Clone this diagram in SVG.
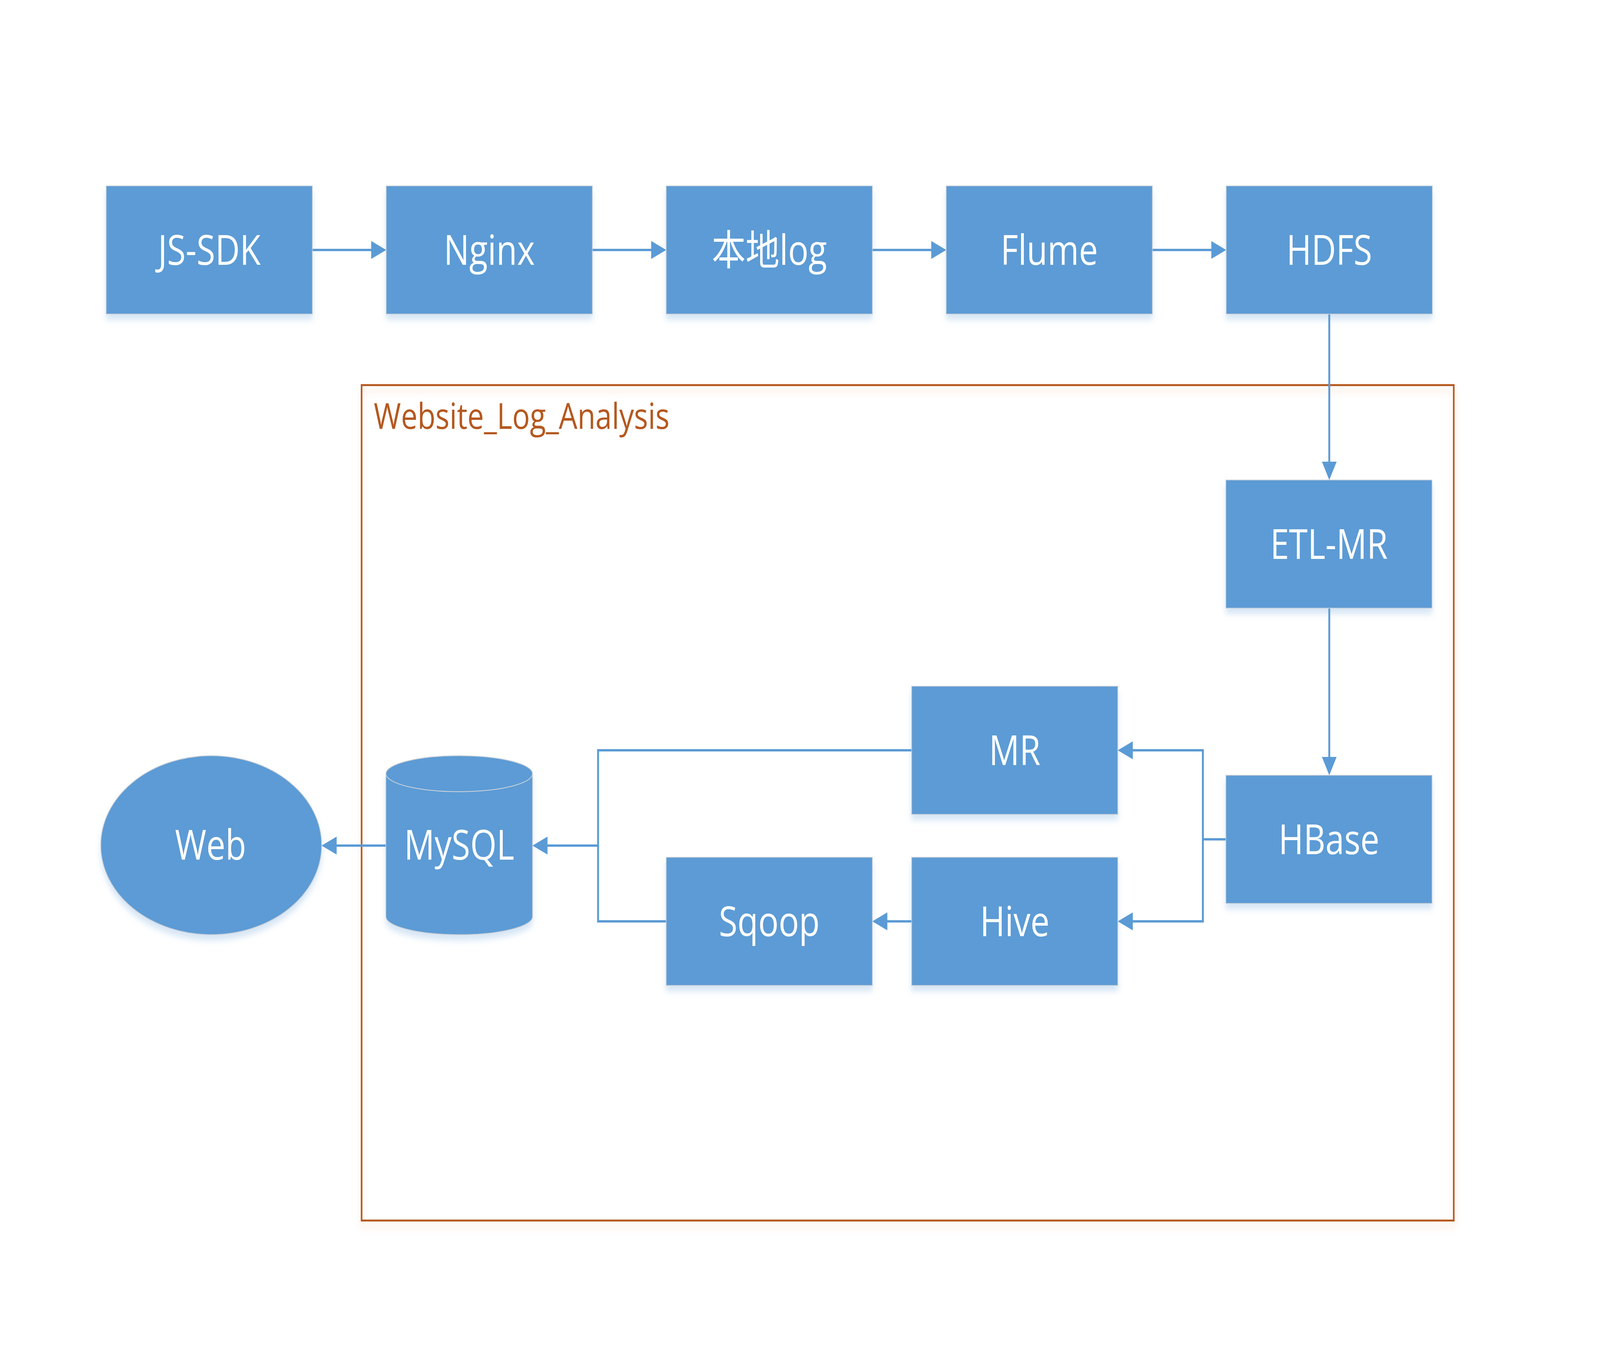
<svg xmlns="http://www.w3.org/2000/svg" width="5000" height="3500" viewBox="0 0 5000 3500" preserveAspectRatio="none" style="width:100vw;height:100vh;display:block">
  <defs>
    <style>
      .node { fill: #5B9BD5; stroke: #C3CCD6; stroke-width: 2; }
      .label { fill: #FFFFFF; font-family: "Open Sans", "Noto Sans CJK SC", sans-serif; font-size: 106px; text-anchor: middle; }
      .conn { fill: none; stroke: #5B9BD5; stroke-width: 6; marker-end: url(#arrow); }
      .plain { fill: none; stroke: #5B9BD5; stroke-width: 6; }
      .frame { fill: none; stroke: #B5581F; stroke-width: 5; }
      .title { fill: #B5581F; font-family: "Open Sans", sans-serif; font-size: 92px; }
    </style>
    <filter id="shadowBlue" x="-10%" y="-10%" width="120%" height="130%">
      <feDropShadow dx="0" dy="14" stdDeviation="8" flood-color="#5B9BD5" flood-opacity="0.25"/>
    </filter>
    <filter id="shadowOrange" x="-5%" y="-5%" width="110%" height="110%">
      <feDropShadow dx="0" dy="14" stdDeviation="9" flood-color="#F4A46E" flood-opacity="0.35"/>
    </filter>
    <marker id="arrow" markerUnits="userSpaceOnUse" markerWidth="47" markerHeight="46" refX="7" refY="23" orient="auto">
      <path d="M0,0 L47,23 L0,46 Z" fill="#5B9BD5"/>
    </marker>
  </defs>
  <rect width="5000" height="3500" fill="#FFFFFF"/>

  <g id="container">
    <rect class="frame" x="1130" y="986" width="3413" height="2139" filter="url(#shadowOrange)"/>
    <text class="title" x="1168" y="1098">Website_Log_Analysis</text>
  </g>

  <g id="connectors">
    <path class="conn" d="M976,640 H1167"/>
    <path class="conn" d="M1851,640 H2042"/>
    <path class="conn" d="M2726,640 H2917"/>
    <path class="conn" d="M3601,640 H3792"/>
    <path class="conn" d="M4154,804 V1189"/>
    <path class="conn" d="M4154,1557 V1945"/>
    <path class="conn" d="M3831,2149 H3759 V1921 H3533"/>
    <path class="conn" d="M3759,2149 V2359 H3533"/>
    <path class="conn" d="M2849,2359 H2766"/>
    <path class="conn" d="M2849,1921 H1869 V2165 H1704"/>
    <path class="plain" d="M2082,2359 H1869 V2165"/>
    <path class="conn" d="M1206,2165 H1045"/>
  </g>

  <g id="js-sdk">
    <rect class="node" x="332" y="476" width="644" height="328" filter="url(#shadowBlue)"/>
    <text class="label" x="654" y="678">JS-SDK</text>
  </g>
  <g id="nginx">
    <rect class="node" x="1207" y="476" width="644" height="328" filter="url(#shadowBlue)"/>
    <text class="label" x="1529" y="678">Nginx</text>
  </g>
  <g id="local-log">
    <rect class="node" x="2082" y="476" width="644" height="328" filter="url(#shadowBlue)"/>
    <text class="label" x="2404" y="678">本地log</text>
  </g>
  <g id="flume">
    <rect class="node" x="2957" y="476" width="644" height="328" filter="url(#shadowBlue)"/>
    <text class="label" x="3279" y="678">Flume</text>
  </g>
  <g id="hdfs">
    <rect class="node" x="3832" y="476" width="644" height="328" filter="url(#shadowBlue)"/>
    <text class="label" x="4154" y="678">HDFS</text>
  </g>
  <g id="etl-mr">
    <rect class="node" x="3831" y="1229" width="644" height="328" filter="url(#shadowBlue)"/>
    <text class="label" x="4153" y="1431">ETL-MR</text>
  </g>
  <g id="hbase">
    <rect class="node" x="3831" y="1985" width="644" height="328" filter="url(#shadowBlue)"/>
    <text class="label" x="4153" y="2187">HBase</text>
  </g>
  <g id="mr">
    <rect class="node" x="2849" y="1757" width="644" height="328" filter="url(#shadowBlue)"/>
    <text class="label" x="3171" y="1959">MR</text>
  </g>
  <g id="hive">
    <rect class="node" x="2849" y="2195" width="644" height="328" filter="url(#shadowBlue)"/>
    <text class="label" x="3171" y="2397">Hive</text>
  </g>
  <g id="sqoop">
    <rect class="node" x="2082" y="2195" width="644" height="328" filter="url(#shadowBlue)"/>
    <text class="label" x="2404" y="2397">Sqoop</text>
  </g>
  <g id="mysql">
    <path d="M1206,1981 A229,46 0 0 1 1664,1981 V2347 A229,46 0 0 1 1206,2347 Z" fill="#5B9BD5" stroke="#C3CCD6" stroke-width="2" filter="url(#shadowBlue)"/>
    <path d="M1206,1981 A229,46 0 0 0 1664,1981" fill="none" stroke="#D0D4DA" stroke-width="2"/>
    <text class="label" x="1435" y="2201">MySQL</text>
  </g>
  <g id="web">
    <ellipse cx="660" cy="2164" rx="345" ry="229" fill="#5B9BD5" stroke="#C3CCD6" stroke-width="2" filter="url(#shadowBlue)"/>
    <text class="label" x="658" y="2201">Web</text>
  </g>
</svg>
